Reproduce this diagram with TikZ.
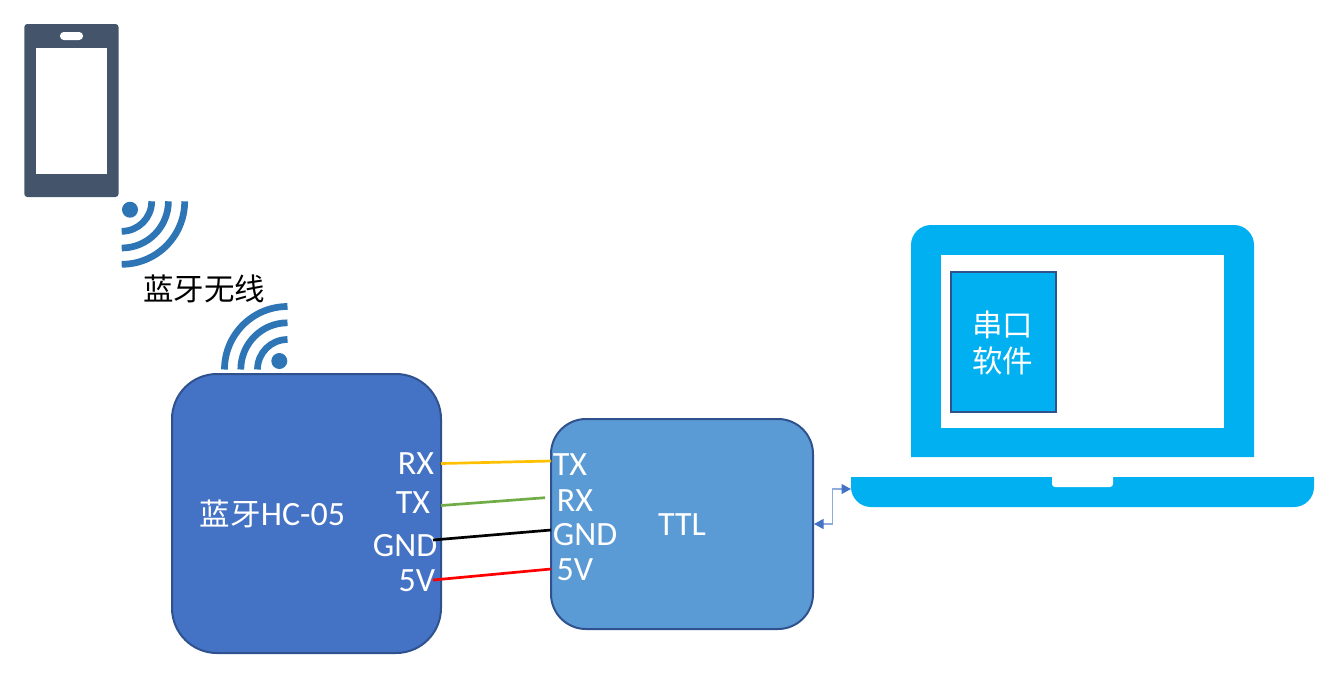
\documentclass[tikz,border=0pt]{standalone}
\usepackage{fontspec}
\setmainfont{Carlito}
\newfontfamily\cjk{Noto Sans CJK SC}
\usetikzlibrary{arrows.meta}
\definecolor{phonec}{HTML}{44546A}
\definecolor{wific}{HTML}{2E75B6}
\definecolor{btfill}{HTML}{4472C4}
\definecolor{ttlfill}{HTML}{5B9BD5}
\definecolor{edgec}{HTML}{2F528F}
\definecolor{lapc}{HTML}{00B0F0}
\definecolor{yel}{HTML}{FFC000}
\definecolor{grn}{HTML}{70AD47}
\definecolor{arrowc}{HTML}{4472C4}
\tikzset{
  pinlabel/.style={text=white,inner sep=0pt,font=\fontsize{34}{34}\selectfont},
  cnlabel/.style={inner sep=0pt,font=\cjk\fontsize{30.5}{30.5}\selectfont},
  wifiring/.style={draw=wific,line width=6.7pt,line cap=butt},
  wire/.style={line width=2.7pt},
  modbox/.style={draw=edgec,line width=2pt,inner sep=0pt}
}
\begin{document}
\begin{tikzpicture}[x=1pt,y=-1pt]
\useasboundingbox (0,0) rectangle (1328,697);
% phone
\fill[phonec,rounded corners=3pt] (24.3,24) rectangle (118.5,197);
\fill[white] (36,48) rectangle (107,174);
\fill[white,rounded corners=3.8pt] (60,32) rectangle (83,40);
% wifi top
\fill[wific] (130,209.7) circle[radius=8];
\draw[wifiring] (184.7,201.3) .. controls (184.7,236.1) and (156.5,264.3) .. (121.7,264.3);
\draw[wifiring] (168.4,201.3) .. controls (168.4,227.1) and (147.5,248) .. (121.7,248);
\draw[wifiring] (151.7,201.3) .. controls (151.7,217.9) and (138.3,231.3) .. (121.7,231.3);
% wifi bottom
\fill[wific] (279.3,361) circle[radius=8];
\draw[wifiring] (224.5,369.5) .. controls (224.5,334.7) and (252.7,306.5) .. (287.5,306.5);
\draw[wifiring] (240.8,369.5) .. controls (240.8,343.7) and (261.7,322.8) .. (287.5,322.8);
\draw[wifiring] (257.5,369.5) .. controls (257.5,352.9) and (270.9,339.5) .. (287.5,339.5);
\node[cnlabel] (wl) at (204,289) {蓝牙无线};
% modules
\node[modbox,fill=btfill,rounded corners=45pt,minimum width=269pt,minimum height=279pt] (bt) at (306.5,513.5) {};
\node[modbox,fill=ttlfill,rounded corners=35pt,minimum width=262pt,minimum height=210pt] (ttl) at (682,524) {};
\node[cnlabel,text=white] (btn) at (272.5,514) {蓝牙\fontspec{Carlito}\fontsize{34}{34}\selectfont HC-05};
\node[pinlabel] (ttln) at (682,525) {TTL};
% pins
\node[pinlabel] (lrx) at (416,463.5) {RX};
\node[pinlabel] (ltx) at (413,502.5) {TX};
\node[pinlabel] (lgnd) at (405,545.5) {GND};
\node[pinlabel] (l5v) at (417,580.5) {5V};
\node[pinlabel] (rtx) at (570,464.5) {TX};
\node[pinlabel] (rrx) at (575,500.5) {RX};
\node[pinlabel] (rgnd) at (585,534.5) {GND};
\node[pinlabel] (r5v) at (575,569.5) {5V};
% wires
\coordinate (wa1) at (441,463.5); \coordinate (wa2) at (551,461);
\coordinate (wb1) at (441,505.5); \coordinate (wb2) at (545,497.7);
\coordinate (wc1) at (433,540); \coordinate (wc2) at (551,530);
\coordinate (wd1) at (433,580); \coordinate (wd2) at (551,569);
\draw[wire,yel] (wa1) -- (wa2);
\draw[wire,grn] (wb1) -- (wb2);
\draw[wire,black] (wc1) -- (wc2);
\draw[wire,red] (wd1) -- (wd2);
% laptop
\fill[lapc] (911,457) -- (911,245) .. controls (911,234) and (920,225) .. (931,225) -- (1234,225) .. controls (1245,225) and (1254,234) .. (1254,245) -- (1254,457) -- cycle;
\fill[white] (941,255) rectangle (1224,428);
\fill[lapc] (851,477) -- (1314,477) -- (1314,487) .. controls (1314,498) and (1305,507) .. (1294,507) -- (871,507) .. controls (860,507) and (851,498) .. (851,487) -- cycle;
\fill[white,rounded corners=3pt] (1052,470) rectangle (1113,487);
\node[draw=edgec,line width=1.5pt,fill=lapc,minimum width=105pt,minimum height=140pt,inner sep=0pt] (soft) at (1003.5,342) {};
\node[cnlabel,text=white] (sa) at (1002.5,325) {串口};
\node[cnlabel,text=white] (sb) at (1002.5,361) {软件};
% arrow
\coordinate (baseL) at (851,489);
\coordinate (elbow) at (832.5,506);
\draw[arrowc!60,line width=1.2pt,{Triangle[length=9.5pt,width=10pt,color=arrowc,fill=arrowc]}-{Triangle[length=9.5pt,width=10pt,color=arrowc,fill=arrowc]}] (ttl.east) -| (elbow) |- (baseL);
\end{tikzpicture}
\end{document}
